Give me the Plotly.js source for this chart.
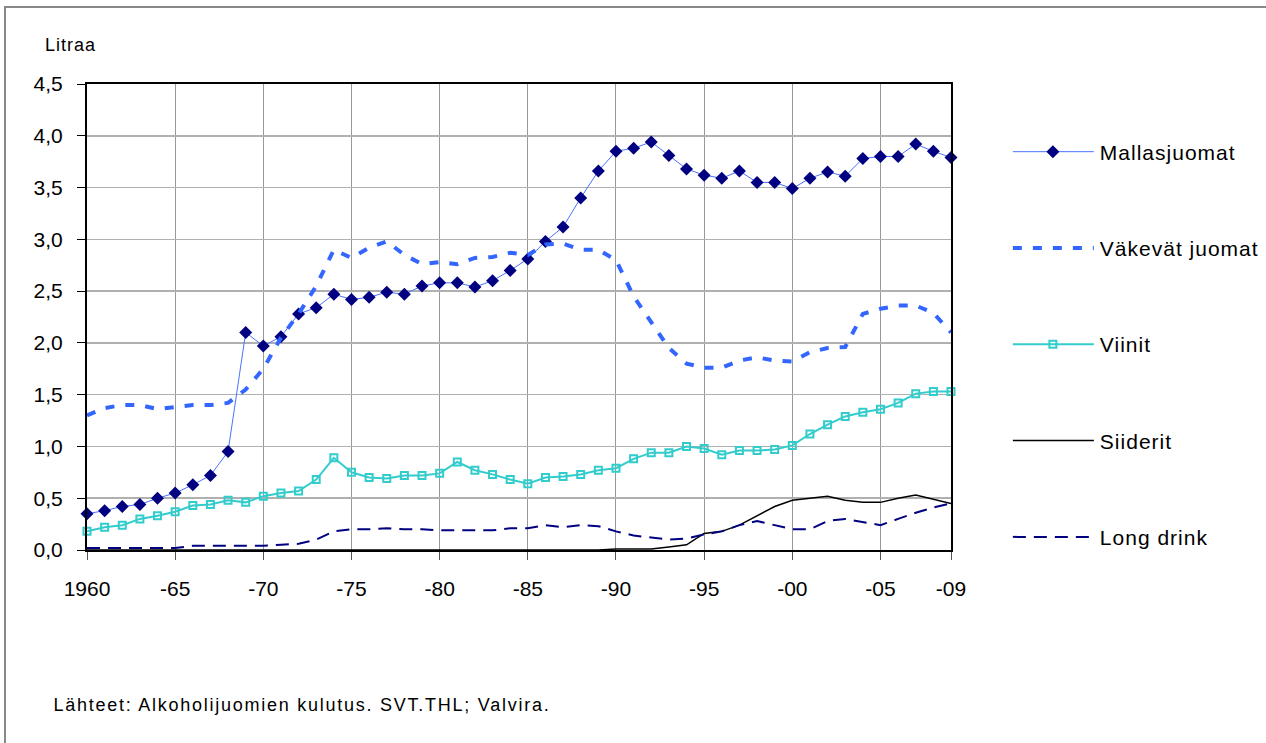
<!DOCTYPE html>
<html>
<head>
<meta charset="utf-8">
<script src="https://cdn.plot.ly/plotly-3.0.1.min.js"></script>
<style>
  html, body { margin: 0; padding: 0; background: #fff; }
  #chart { width: 1266px; height: 743px; }
  #frame { position: absolute; left: 4px; top: 6px; width: 1400px; height: 900px;
           border-top: 2px solid #888; border-left: 2px solid #888; pointer-events: none; }
</style>
</head>
<body>
<div id="chart"></div>
<div id="frame"></div>
<script>
const years = [];
for (let y = 1960; y <= 2009; y++) years.push(y);

const mallasjuomat = [0.35,0.38,0.42,0.44,0.50,0.55,0.63,0.72,0.95,2.10,
  1.97,2.06,2.28,2.34,2.47,2.42,2.44,2.49,2.47,2.55,
  2.58,2.58,2.54,2.60,2.70,2.81,2.98,3.12,3.40,3.66,
  3.85,3.88,3.94,3.81,3.68,3.62,3.59,3.66,3.55,3.55,
  3.49,3.59,3.65,3.61,3.78,3.80,3.80,3.92,3.85,3.79];

const vakevat = [1.30,1.37,1.40,1.40,1.36,1.38,1.40,1.40,1.42,1.55,
  1.75,2.05,2.28,2.55,2.90,2.82,2.92,2.98,2.85,2.76,
  2.78,2.76,2.82,2.83,2.87,2.85,2.95,2.96,2.90,2.90,
  2.80,2.45,2.20,1.95,1.80,1.76,1.76,1.83,1.86,1.83,
  1.82,1.91,1.95,1.96,2.28,2.33,2.36,2.36,2.29,2.10];

const viinit = [0.18,0.22,0.24,0.30,0.33,0.37,0.43,0.44,0.48,0.46,
  0.52,0.55,0.57,0.68,0.89,0.75,0.70,0.69,0.72,0.72,
  0.74,0.85,0.77,0.73,0.68,0.64,0.70,0.71,0.73,0.77,
  0.79,0.88,0.94,0.94,1.00,0.98,0.92,0.96,0.96,0.97,
  1.01,1.12,1.21,1.29,1.33,1.36,1.42,1.51,1.53,1.53];

const siiderit = [0,0,0,0,0,0,0,0,0,0,
  0,0,0,0,0,0,0,0,0,0,
  0,0,0,0,0,0,0,0,0,0,
  0.01,0.01,0.01,0.03,0.05,0.16,0.18,0.24,0.33,0.42,
  0.48,0.50,0.52,0.48,0.46,0.46,0.50,0.53,0.49,0.45];

const longdrink = [0.02,0.02,0.02,0.02,0.02,0.02,0.04,0.04,0.04,0.04,
  0.04,0.05,0.06,0.10,0.18,0.20,0.20,0.21,0.20,0.20,
  0.19,0.19,0.19,0.19,0.21,0.21,0.24,0.22,0.24,0.23,
  0.18,0.14,0.12,0.10,0.11,0.15,0.18,0.24,0.28,0.24,
  0.20,0.20,0.28,0.30,0.27,0.24,0.30,0.36,0.41,0.45];

const tickVals = [1960,1965,1970,1975,1980,1985,1990,1995,2000,2005,2009];
const tickText = ['1960','-65','-70','-75','-80','-85','-90','-95','-00','-05','-09'];

const FONT = 'Liberation Sans, Arial, sans-serif';

const traces = [
  {x: years, y: mallasjuomat, name: 'Mallasjuomat', legendgroup: 'a', mode: 'lines+markers',
   line: {color: '#4a72ff', width: 1}, marker: {symbol: 'diamond', size: 10, color: '#000080'}},
  {x: years, y: vakevat, name: 'Väkevät juomat', legendgroup: 'b', mode: 'lines',
   line: {color: '#3366ff', width: 4, dash: '9px,11px'}},
  {x: years, y: viinit, name: 'Viinit', legendgroup: 'c', mode: 'lines+markers',
   line: {color: '#33cccc', width: 2}, marker: {symbol: 'square-open', size: 7, color: '#33cccc', line: {width: 2}}},
  {x: years, y: siiderit, name: 'Siiderit', legendgroup: 'd', mode: 'lines',
   line: {color: '#000000', width: 1.5}},
  {x: years, y: longdrink, name: 'Long drink', legendgroup: 'e', mode: 'lines',
   line: {color: '#000080', width: 2, dash: '13px,8px'}}
];
traces.forEach(t => t.cliponaxis = false);

const layout = {
  width: 1266, height: 743,
  margin: {l: 87, r: 315, t: 84, b: 193},
  paper_bgcolor: 'rgba(0,0,0,0)', plot_bgcolor: '#fff',
  separators: ', ',
  font: {family: FONT, color: '#000', size: 20},
  showlegend: true,
  legend: {x: 1.126, y: 0.898, xanchor: 'left', yanchor: 'top', tracegroupgap: 66,
           font: {family: FONT, size: 21}, bgcolor: 'rgba(0,0,0,0)'},
  xaxis: {range: [1960, 2009], tickvals: tickVals, ticktext: tickText,
          showgrid: true, gridcolor: '#999', gridwidth: 1, zeroline: false,
          showline: true, linecolor: '#000', linewidth: 2, mirror: true,
          ticks: 'outside', ticklen: 8, tickcolor: '#555', tickwidth: 1,
          ticklabelstandoff: 11, tickfont: {size: 21}},
  yaxis: {range: [0, 4.5], dtick: 0.5, tick0: 0, tickformat: '.1f',
          showgrid: true, gridcolor: '#b0b0b0', gridwidth: 1.5, zeroline: false,
          showline: true, linecolor: '#000', linewidth: 2, mirror: true,
          ticks: 'outside', ticklen: 8, tickcolor: '#000', tickwidth: 1,
          ticklabelstandoff: 10, tickfont: {size: 21}},
  annotations: [
    {text: 'Litraa', xref: 'paper', yref: 'paper', x: -0.0185, y: 1.084,
     xanchor: 'center', yanchor: 'middle', showarrow: false, font: {size: 18}},
    {text: 'Lähteet: Alkoholijuomien kulutus. SVT.THL; Valvira.', xref: 'paper', yref: 'paper',
     x: 0.2488, y: -0.333, xanchor: 'center', yanchor: 'middle', showarrow: false, font: {size: 18}}
  ]
};

Plotly.newPlot('chart', traces, layout, {displayModeBar: false, staticPlot: true}).then(gd => {
  // lengthen legend sample lines to match the original legend keys
  const sb = gd.querySelector('.legend .scrollbox');
  if (sb) sb.removeAttribute('clip-path');
  gd.querySelectorAll('.legend .traces').forEach(t => {
    t.querySelectorAll('.legendlines path').forEach(p => p.setAttribute('d', 'M-47,0h81'));
    t.querySelectorAll('.legendpoints path').forEach(p => p.setAttribute('transform', 'translate(-7,0)'));
  });
  // widen text spacing like the original export
  gd.querySelectorAll('.legendtext').forEach(el => el.style.letterSpacing = '1px');
  const ann = gd.querySelectorAll('.annotation-text');
  if (ann[0]) ann[0].style.letterSpacing = '1px';
  if (ann[1]) ann[1].style.letterSpacing = '1.75px';
});
</script>
</body>
</html>
